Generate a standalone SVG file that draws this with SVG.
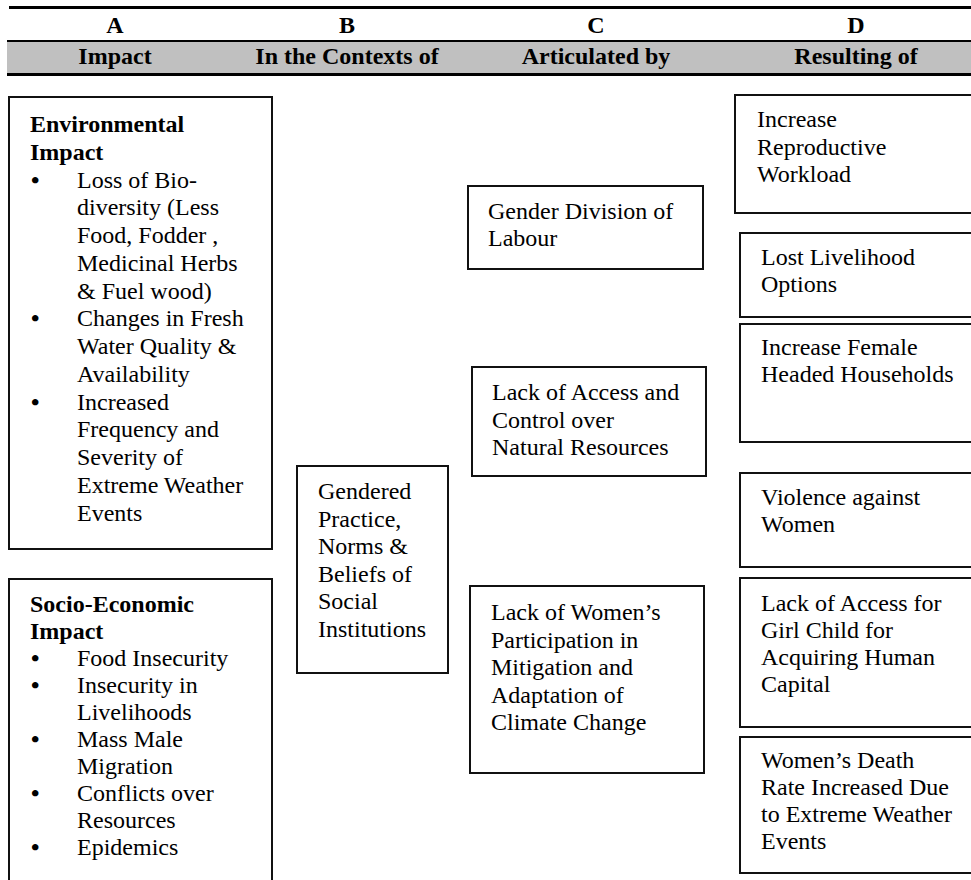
<svg xmlns="http://www.w3.org/2000/svg" width="971" height="880" viewBox="0 0 971 880">
<style>
  text { font-family: "Liberation Serif", "Times New Roman", serif; fill: #000; }
  .hd { font-size: 24px; font-weight: bold; text-anchor: middle; }
  .t { font-size: 24px; }
  .b { font-weight: bold; }
  .bu { font-size: 24px; font-weight: bold; }
  .box { fill: #fff; stroke: #111; stroke-width: 2; }
</style>
<rect x="0" y="0" width="971" height="880" fill="#fff"/>
<g id="header">
  <rect x="7" y="41" width="964" height="33" fill="#c0c0c0"/>
  <line x1="9" y1="7.5" x2="971" y2="7.5" stroke="#000" stroke-width="3"/>
  <line x1="7" y1="41" x2="971" y2="41" stroke="#000" stroke-width="2"/>
  <line x1="7" y1="74.5" x2="971" y2="74.5" stroke="#000" stroke-width="3"/>
  <text class="hd" x="115" y="33">A</text>
  <text class="hd" x="347" y="33">B</text>
  <text class="hd" x="596" y="33">C</text>
  <text class="hd" x="856" y="33">D</text>
  <text class="hd" x="115" y="64">Impact</text>
  <text class="hd" x="347" y="64">In the Contexts of</text>
  <text class="hd" x="596" y="64">Articulated by</text>
  <text class="hd" x="856" y="64">Resulting of</text>
</g>
<g id="env-impact">
  <rect class="box" x="9" y="97" width="263" height="452"/>
  <text class="t b" x="30" y="132">Environmental</text>
  <text class="t b" x="30" y="159.75">Impact</text>
  <text class="bu" x="31" y="187.5">•</text>
  <text class="t" x="77" y="187.5">Loss of Bio-</text>
  <text class="t" x="77" y="215.25">diversity (Less</text>
  <text class="t" x="77" y="243">Food, Fodder ,</text>
  <text class="t" x="77" y="270.75">Medicinal Herbs</text>
  <text class="t" x="77" y="298.5">&amp; Fuel wood)</text>
  <text class="bu" x="31" y="326.25">•</text>
  <text class="t" x="77" y="326.25">Changes in Fresh</text>
  <text class="t" x="77" y="354">Water Quality &amp;</text>
  <text class="t" x="77" y="381.75">Availability</text>
  <text class="bu" x="31" y="409.5">•</text>
  <text class="t" x="77" y="409.5">Increased</text>
  <text class="t" x="77" y="437.25">Frequency and</text>
  <text class="t" x="77" y="465">Severity of</text>
  <text class="t" x="77" y="492.75">Extreme Weather</text>
  <text class="t" x="77" y="520.5">Events</text>
</g>
<g id="socio-impact">
  <rect class="box" x="9" y="579" width="263" height="320"/>
  <text class="t b" x="30" y="612">Socio-Economic</text>
  <text class="t b" x="30" y="639">Impact</text>
  <text class="bu" x="31" y="666">•</text>
  <text class="t" x="77" y="666">Food Insecurity</text>
  <text class="bu" x="31" y="693">•</text>
  <text class="t" x="77" y="693">Insecurity in</text>
  <text class="t" x="77" y="720">Livelihoods</text>
  <text class="bu" x="31" y="747">•</text>
  <text class="t" x="77" y="747">Mass Male</text>
  <text class="t" x="77" y="774">Migration</text>
  <text class="bu" x="31" y="801">•</text>
  <text class="t" x="77" y="801">Conflicts over</text>
  <text class="t" x="77" y="828">Resources</text>
  <text class="bu" x="31" y="855">•</text>
  <text class="t" x="77" y="855">Epidemics</text>
</g>
<g id="gendered-practice">
  <rect class="box" x="297" y="466" width="151" height="207"/>
  <text class="t" x="318" y="499">Gendered</text>
  <text class="t" x="318" y="526.5">Practice,</text>
  <text class="t" x="318" y="554">Norms &amp;</text>
  <text class="t" x="318" y="581.5">Beliefs of</text>
  <text class="t" x="318" y="609">Social</text>
  <text class="t" x="318" y="636.5">Institutions</text>
</g>
<g id="gender-division">
  <rect class="box" x="468" y="186" width="235" height="83"/>
  <text class="t" x="488" y="219">Gender Division of</text>
  <text class="t" x="488" y="246">Labour</text>
</g>
<g id="lack-access">
  <rect class="box" x="472" y="367" width="234" height="109"/>
  <text class="t" x="492" y="400">Lack of Access and</text>
  <text class="t" x="492" y="427.5">Control over</text>
  <text class="t" x="492" y="455">Natural Resources</text>
</g>
<g id="lack-participation">
  <rect class="box" x="470" y="586" width="234" height="187"/>
  <text class="t" x="491" y="620">Lack of Women’s</text>
  <text class="t" x="491" y="647.5">Participation in</text>
  <text class="t" x="491" y="675">Mitigation and</text>
  <text class="t" x="491" y="702.5">Adaptation of</text>
  <text class="t" x="491" y="730">Climate Change</text>
</g>
<g id="reproductive-workload">
  <rect class="box" x="735" y="95" width="260" height="118"/>
  <text class="t" x="757" y="127">Increase</text>
  <text class="t" x="757" y="154.5">Reproductive</text>
  <text class="t" x="757" y="182">Workload</text>
</g>
<g id="lost-livelihood">
  <rect class="box" x="740" y="233" width="255" height="84"/>
  <text class="t" x="761" y="265">Lost Livelihood</text>
  <text class="t" x="761" y="292">Options</text>
</g>
<g id="female-headed">
  <rect class="box" x="740" y="324" width="255" height="118"/>
  <text class="t" x="761" y="355">Increase Female</text>
  <text class="t" x="761" y="382">Headed Households</text>
</g>
<g id="violence">
  <rect class="box" x="740" y="473" width="255" height="94"/>
  <text class="t" x="761" y="505">Violence against</text>
  <text class="t" x="761" y="532">Women</text>
</g>
<g id="girl-child">
  <rect class="box" x="740" y="578" width="255" height="149"/>
  <text class="t" x="761" y="611">Lack of Access for</text>
  <text class="t" x="761" y="638">Girl Child for</text>
  <text class="t" x="761" y="665">Acquiring Human</text>
  <text class="t" x="761" y="692">Capital</text>
</g>
<g id="death-rate">
  <rect class="box" x="740" y="737" width="255" height="136"/>
  <text class="t" x="761" y="768">Women’s Death</text>
  <text class="t" x="761" y="795">Rate Increased Due</text>
  <text class="t" x="761" y="822">to Extreme Weather</text>
  <text class="t" x="761" y="849">Events</text>
</g>
<g id="connectors"></g>
</svg>
